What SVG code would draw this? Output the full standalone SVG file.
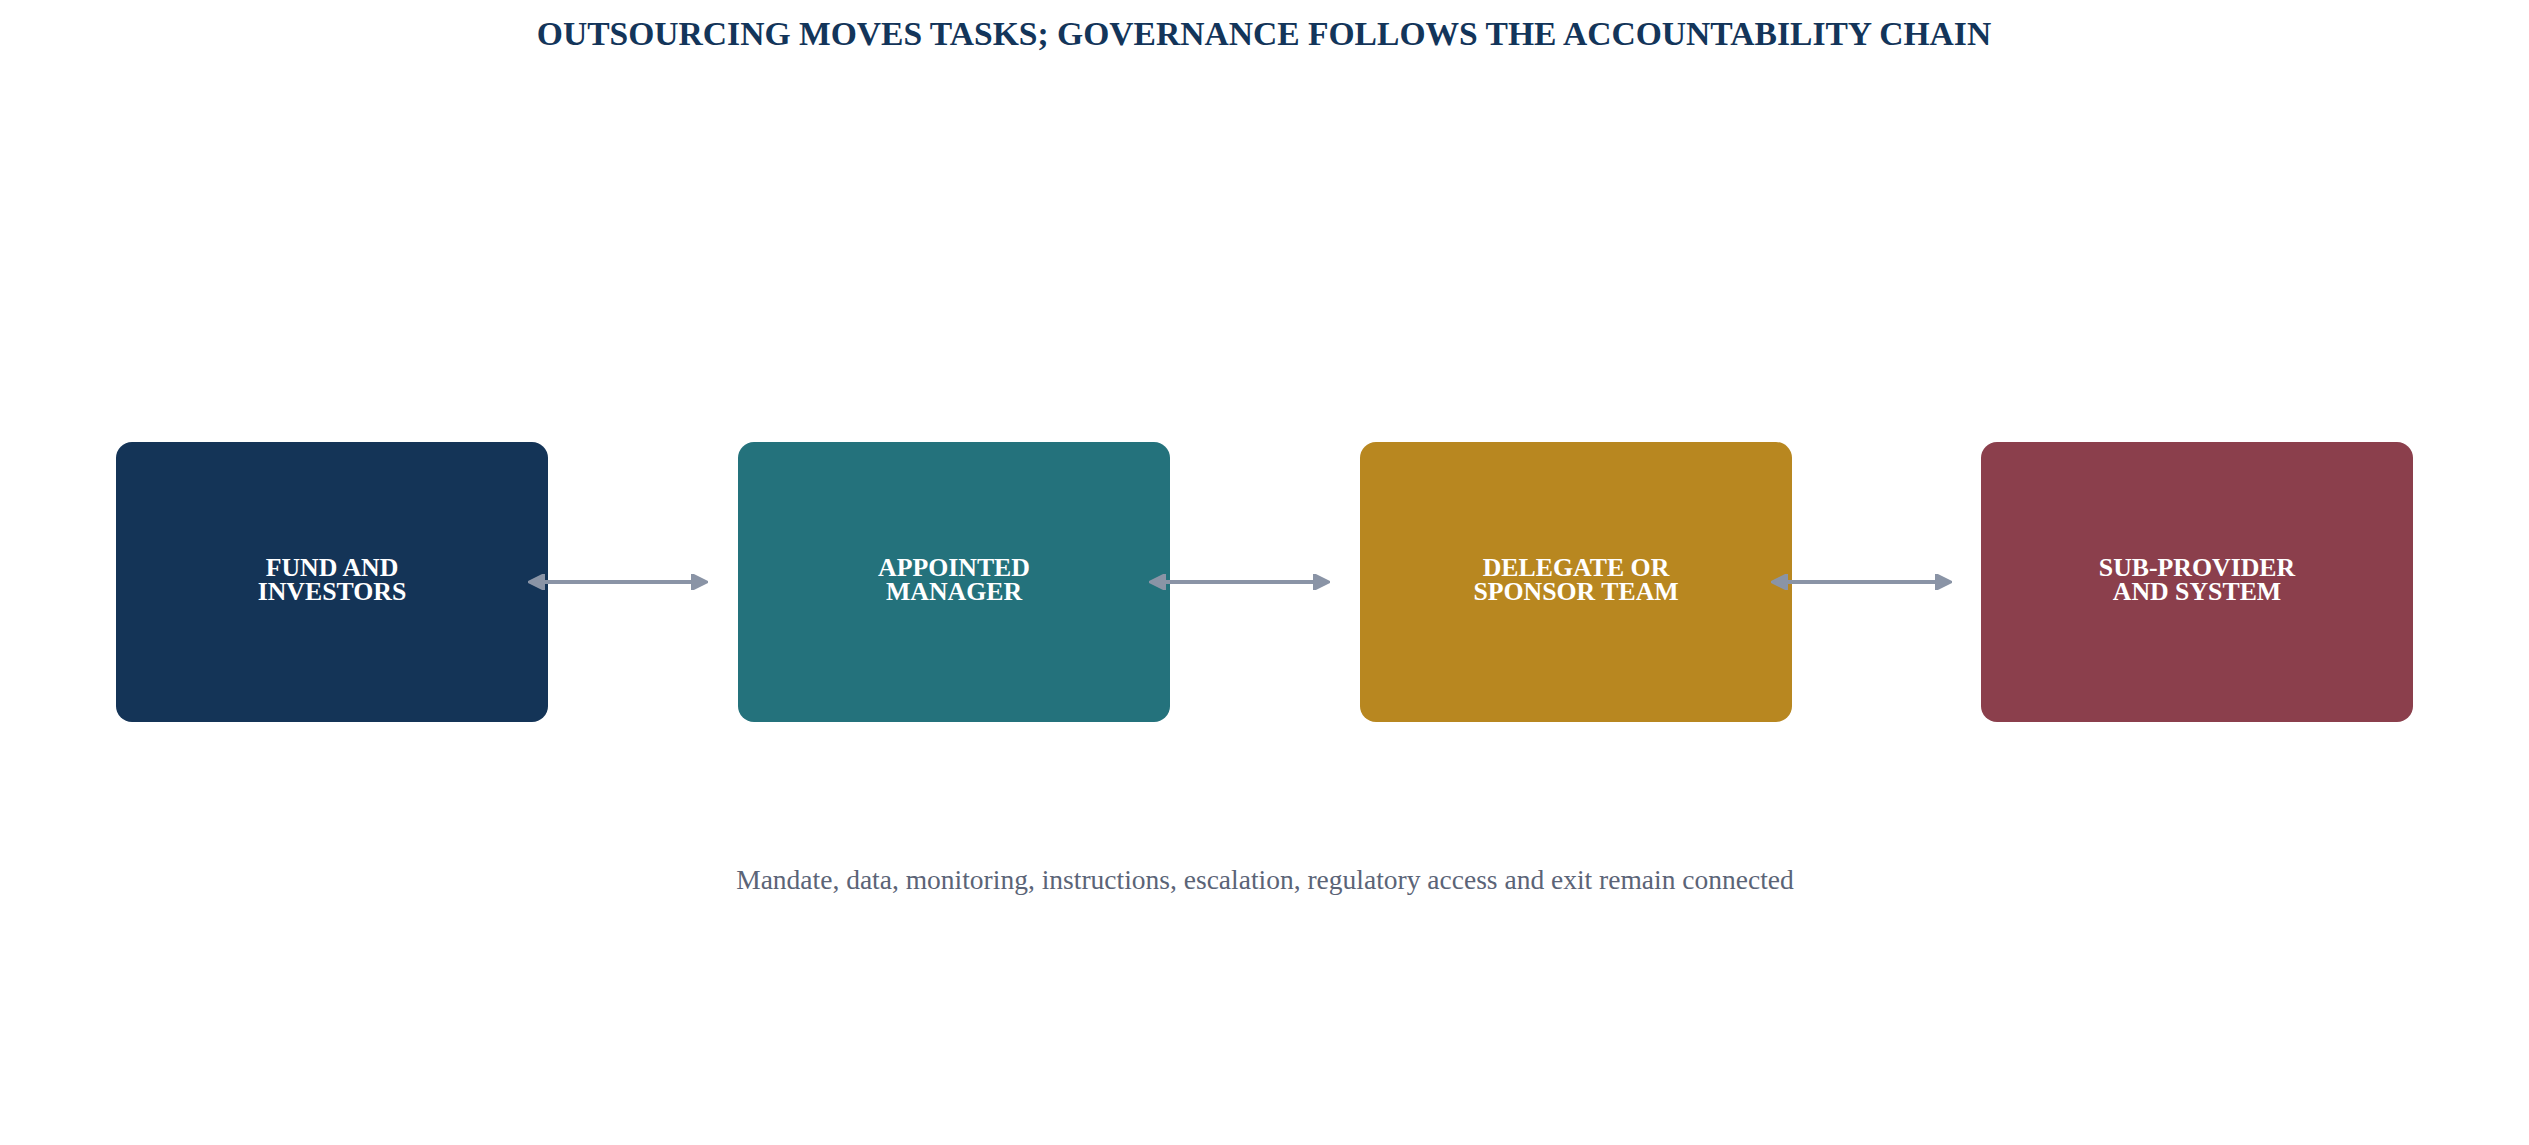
<svg xmlns="http://www.w3.org/2000/svg" width="2529" height="1145" viewBox="0 0 2529 1145">
<style>
.title{font-family:"Liberation Serif","Times New Roman",serif;font-weight:bold;font-size:33.6px;fill:#13355a;text-anchor:middle}
.lbl{font-family:"Liberation Serif","Times New Roman",serif;font-weight:bold;font-size:25.8px;fill:#ffffff;text-anchor:middle}
.sub{font-family:"Liberation Serif","Times New Roman",serif;font-size:27.5px;fill:#5b6477;text-anchor:middle}
.conn{stroke:#8a94a6;stroke-width:4;fill:none;marker-start:url(#ah);marker-end:url(#ah)}
</style>
<defs>
<marker id="ah" viewBox="0 0 10 10" refX="9" refY="5" markerWidth="4.2" markerHeight="4.2" orient="auto-start-reverse" markerUnits="strokeWidth">
<path d="M0,0 L10,5 L0,10 z" fill="#8a94a6" stroke="#8a94a6" stroke-width="1.2" stroke-linejoin="round"/>
</marker>
</defs>
<rect width="2529" height="1145" fill="#ffffff"/>
<text class="title" x="1264" y="45">OUTSOURCING MOVES TASKS; GOVERNANCE FOLLOWS THE ACCOUNTABILITY CHAIN</text>
<g id="node-fund">
<rect x="116" y="442" width="432" height="280" rx="16" fill="#143457"/>
<text class="lbl" x="332" y="576">FUND AND</text>
<text class="lbl" x="332" y="600">INVESTORS</text>
</g>
<g id="node-manager">
<rect x="738" y="442" width="432" height="280" rx="16" fill="#24727c"/>
<text class="lbl" x="954" y="576">APPOINTED</text>
<text class="lbl" x="954" y="600">MANAGER</text>
</g>
<g id="node-delegate">
<rect x="1360" y="442" width="432" height="280" rx="16" fill="#b88720"/>
<text class="lbl" x="1576" y="576">DELEGATE OR</text>
<text class="lbl" x="1576" y="600">SPONSOR TEAM</text>
</g>
<g id="node-subprovider">
<rect x="1981" y="442" width="432" height="280" rx="16" fill="#8b3f4c"/>
<text class="lbl" x="2197" y="576">SUB-PROVIDER</text>
<text class="lbl" x="2197" y="600">AND SYSTEM</text>
</g>
<g id="connectors">
<line class="conn" x1="530" y1="582" x2="706" y2="582"/>
<line class="conn" x1="1151" y1="582" x2="1328" y2="582"/>
<line class="conn" x1="1773" y1="582" x2="1950" y2="582"/>
</g>
<text class="sub" x="1265" y="889">Mandate, data, monitoring, instructions, escalation, regulatory access and exit remain connected</text>
</svg>
